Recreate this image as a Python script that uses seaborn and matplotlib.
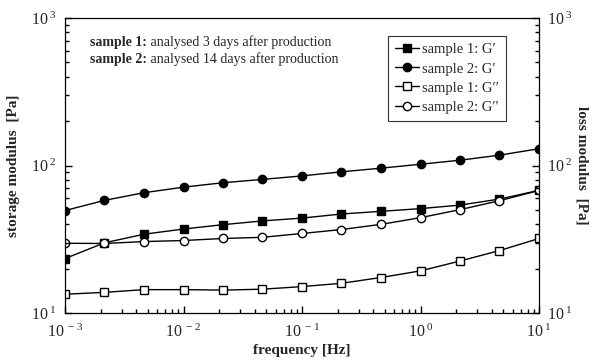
import numpy as np
import pandas as pd
import matplotlib
matplotlib.use("Agg")
import matplotlib.pyplot as plt
import seaborn as sns
from matplotlib.ticker import LogLocator, FuncFormatter, NullFormatter

freq = [0.001, 0.00215, 0.00464, 0.01, 0.0215, 0.0464, 0.1, 0.215, 0.464, 1.0, 2.15, 4.64, 10.0]
s1_Gp = [23.4, 29.9, 34.2, 37.1, 39.7, 42.1, 44.0, 46.9, 48.9, 51.0, 53.9, 59.2, 67.8]
s2_Gp = [49.5, 58.0, 65.4, 71.3, 76.4, 80.5, 85.0, 90.6, 95.9, 102.0, 108.6, 117.5, 130.0]
s1_Gpp = [13.4, 13.8, 14.4, 14.4, 14.3, 14.5, 15.1, 15.9, 17.4, 19.3, 22.5, 26.5, 32.0]
s2_Gpp = [29.7, 29.6, 30.5, 31.0, 32.0, 32.6, 34.6, 36.8, 39.9, 44.3, 50.2, 57.7, 67.8]
labels = ["sample 1: G\u2032", "sample 2: G\u2032", "sample 1: G\u2032\u2032", "sample 2: G\u2032\u2032"]
notes = [("sample 1:", " analysed 3 days after production"),
         ("sample 2:", " analysed 14 days after production")]

sns.set_theme(style="ticks")
plt.rcParams["font.family"] = ["Liberation Serif", "DejaVu Serif"]
plt.rcParams["mathtext.fontset"] = "custom"
plt.rcParams["mathtext.rm"] = "Liberation Serif"
plt.rcParams["mathtext.it"] = "Liberation Serif:italic"
plt.rcParams["mathtext.bf"] = "Liberation Serif:bold"
plt.rcParams["axes.axisbelow"] = False

fig = plt.figure(figsize=(5.96, 3.6), dpi=100)
ax = fig.add_axes([65/596, 1 - 313/360, (539 - 65)/596, (313 - 18)/360])

series = [(s1_Gp, "s", "black"), (s2_Gp, "o", "black"), (s1_Gpp, "s", "white"), (s2_Gpp, "o", "white")]
for (vals, mk, fc), lab in zip(series, labels):
    df = pd.DataFrame({"f": freq, "v": vals})
    sns.lineplot(data=df, x="f", y="v", ax=ax, color="black", lw=1.0,
                 marker=mk, markersize=6, markerfacecolor=fc, markeredgecolor="black",
                 markeredgewidth=1.0, label=lab)

ax.set_xscale("log")
ax.set_yscale("log")
ax.set_xlim(1e-3, 10)
ax.set_ylim(10, 1000)

def fmt(v, pos):
    e = int(round(np.log10(v)))
    if e < 0:
        return r"$\mathregular{10^{\ -\,%d}}$" % (-e)
    return r"$\mathregular{10^{\ %d}}$" % e

def setup_log(axis):
    axis.set_major_locator(LogLocator(base=10, numticks=10))
    axis.set_minor_locator(LogLocator(base=10, subs=np.arange(2, 10), numticks=10))
    axis.set_major_formatter(FuncFormatter(fmt))
    axis.set_minor_formatter(NullFormatter())

setup_log(ax.xaxis)
setup_log(ax.yaxis)
ax.tick_params(axis="both", which="both", direction="in", labelsize=11.5, color="black",
               top=False, right=False, bottom=True, left=True)
ax.tick_params(axis="both", which="major", length=5, width=1.0)
ax.tick_params(axis="both", which="minor", length=3, width=1.0)
ax.tick_params(axis="x", pad=8)
ax.tick_params(axis="y", pad=6)
for sp in ax.spines.values():
    sp.set_visible(True)
    sp.set_color("black")
    sp.set_linewidth(0.9)

ax.set_xlabel("frequency [Hz]", fontsize=11, fontweight="bold", labelpad=2)
ax.set_ylabel("storage modulus  [Pa]", fontsize=11, fontweight="bold", labelpad=8)

ax2 = ax.twinx()
ax2.set_yscale("log")
ax2.set_ylim(10, 1000)
setup_log(ax2.yaxis)
ax2.tick_params(axis="y", which="both", direction="in", labelsize=11.5, color="black", pad=6,
                right=True, left=False)
ax2.tick_params(axis="y", which="major", length=5, width=1.0)
ax2.tick_params(axis="y", which="minor", length=3, width=1.0)
ax2.set_ylabel("loss modulus  [Pa]", fontsize=11, fontweight="bold", rotation=270, labelpad=11)
for sp in ax2.spines.values():
    sp.set_visible(False)

leg = ax.legend(loc="upper left", bbox_to_anchor=((388 - 65)/474, 1 - (36 - 18)/295),
                frameon=True, fancybox=False, fontsize=10.5, handlelength=1.6,
                handletextpad=0.2, borderpad=0.5, labelspacing=0.4, borderaxespad=0)
leg.get_frame().set_edgecolor("black")
leg.get_frame().set_linewidth(0.8)

for (bold, rest), yy in zip(notes, [0.905, 0.848]):
    t = ax.text(0.053, yy, bold, transform=ax.transAxes, fontsize=10, fontweight="bold", va="baseline")
    ax.annotate(rest, xy=(1, 0), xycoords=t, fontsize=10, va="bottom", ha="left")

fig.savefig("out.png", dpi=100)
